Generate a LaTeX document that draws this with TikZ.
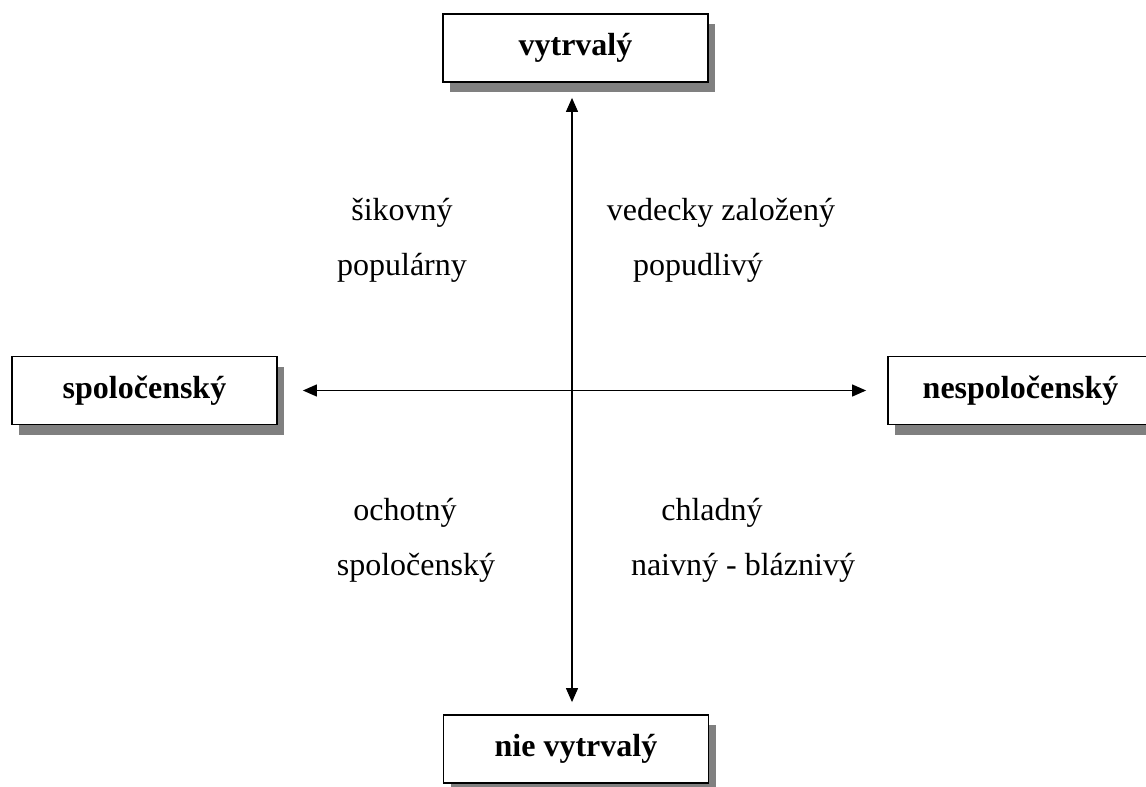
\documentclass[tikz,border=0pt]{standalone}
\usepackage{fontspec}
\setmainfont{Liberation Serif}
\usetikzlibrary{arrows.meta,shadows}

\begin{document}
\begin{tikzpicture}[x=0.5pt,y=-0.5pt,
	pole/.style={draw,line width=0.9pt,fill=white,minimum width=132.5pt,minimum height=34pt,
		font=\fontsize{16}{19}\selectfont\bfseries,
		drop shadow={shadow xshift=3.5pt,shadow yshift=-5pt,fill=black!50,opacity=1}},
	word/.style={font=\fontsize{16}{19}\selectfont},
	axis/.style={line width=0.6pt,{Triangle[length=7pt,width=6pt]}-{Triangle[length=7pt,width=6pt]}}]
	\useasboundingbox (0,0) rectangle (1146,787);
	% the four poles
	\node[pole] (vytrvaly) at (575.5,48) {vytrvalý};
	\node[pole] (nievytrvaly) at (576,749) {nie vytrvalý};
	\node[pole] (spol) at (144.5,390.5) {spoločenský};
	\node[pole] (nespol) at (1020.5,390.5) {nespoločenský};
	% axes
	\draw[axis] ([xshift=-1.75pt]vytrvaly.south) -- ([xshift=-2pt]nievytrvaly.north)
		[shorten <=7.5pt,shorten >=6pt];
	\draw[axis,shorten <=12.5pt,shorten >=10.5pt] (spol.east) -- (nespol.west);
	% quadrant words
	\node[word] (sikovny) at (402,213) {šikovný};
	\node[word] (popularny) at (402,268) {populárny};
	\node[word] (vedecky) at (721,213) {vedecky založený};
	\node[word] (popudlivy) at (698,268) {popudlivý};
	\node[word] (ochotny) at (405,513) {ochotný};
	\node[word] (spolocensky) at (416,568) {spoločenský};
	\node[word] (chladny) at (712,513) {chladný};
	\node[word] (naivny) at (743,568) {naivný - bláznivý};
\end{tikzpicture}
\end{document}
